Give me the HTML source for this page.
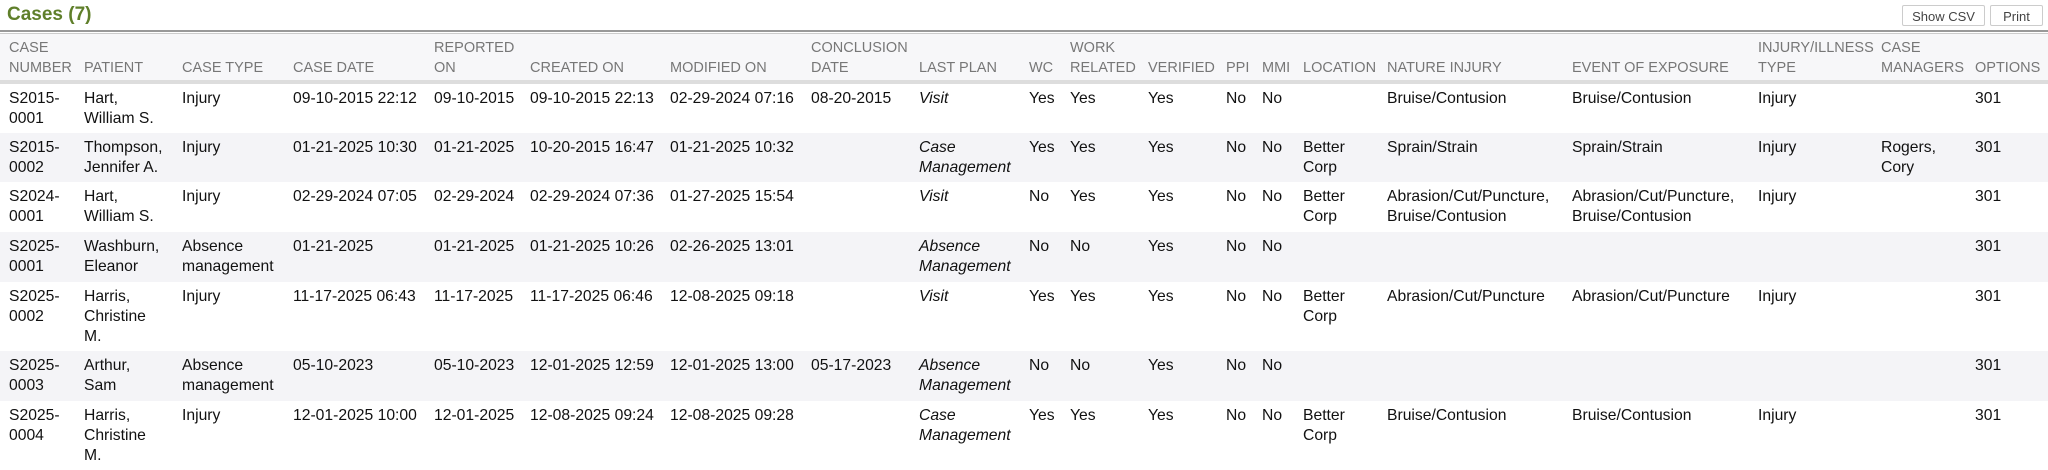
<!DOCTYPE html>
<html><head><meta charset="utf-8"><style>
body{margin:0;width:2048px;height:469px;overflow:hidden;background:#fff;font-family:"Liberation Sans",Arial,sans-serif;color:#111;position:relative}
.title{position:absolute;left:7px;top:4px;font-size:19px;font-weight:bold;color:#5f7f2a}
.btn{position:absolute;top:5px;height:21px;border:1px solid #ccc;border-radius:2px;background:#fff;font-size:13px;color:#444;line-height:21px;text-align:center;box-sizing:border-box}
.topline{position:absolute;left:0;top:30px;width:2048px;height:4px;border-top:2px solid #999;border-bottom:1px solid #ccc;box-sizing:border-box}
table{position:absolute;left:0;top:34px;border-collapse:collapse;table-layout:fixed;width:2048px}
td,th{padding:0;vertical-align:top;font-size:15.7px;line-height:20px;text-align:left;overflow:visible;white-space:nowrap}
th{font-weight:normal;color:#777;font-size:14.5px;vertical-align:bottom;background:#f7f7f9;height:44px;padding-bottom:2px}
thead tr{border-bottom:4px solid #ddd}
tbody td{padding-top:5px}
tr.g td{background:#f4f4f7}
th:first-child,td:first-child{padding-left:9px}
i{font-style:italic}
</style></head><body>
<div class="title">Cases (7)</div>
<div class="btn" style="left:1902px;width:83px">Show CSV</div>
<div class="btn" style="left:1990px;width:53px">Print</div>
<div class="topline"></div>
<table>
<colgroup>
<col style="width:84px"><col style="width:98px"><col style="width:111px"><col style="width:141px"><col style="width:96px"><col style="width:140px"><col style="width:141px"><col style="width:108px"><col style="width:110px"><col style="width:41px"><col style="width:78px"><col style="width:78px"><col style="width:36px"><col style="width:41px"><col style="width:84px"><col style="width:185px"><col style="width:186px"><col style="width:123px"><col style="width:94px"><col style="width:73px">
</colgroup>
<thead><tr>
<th>CASE<br>NUMBER</th><th>PATIENT</th><th>CASE TYPE</th><th>CASE DATE</th><th>REPORTED<br>ON</th><th>CREATED ON</th><th>MODIFIED ON</th><th>CONCLUSION<br>DATE</th><th>LAST PLAN</th><th>WC</th><th>WORK<br>RELATED</th><th>VERIFIED</th><th>PPI</th><th>MMI</th><th>LOCATION</th><th>NATURE INJURY</th><th>EVENT OF EXPOSURE</th><th>INJURY/ILLNESS<br>TYPE</th><th>CASE<br>MANAGERS</th><th>OPTIONS</th>
</tr></thead>
<tbody>
<tr style="height:51px"><td>S2015-<br>0001</td><td>Hart,<br>William S.</td><td>Injury</td><td>09-10-2015 22:12</td><td>09-10-2015</td><td>09-10-2015 22:13</td><td>02-29-2024 07:16</td><td>08-20-2015</td><td><i>Visit</i></td><td>Yes</td><td>Yes</td><td>Yes</td><td>No</td><td>No</td><td></td><td>Bruise/Contusion</td><td>Bruise/Contusion</td><td>Injury</td><td></td><td>301</td></tr>
<tr class="g" style="height:49px"><td>S2015-<br>0002</td><td>Thompson,<br>Jennifer A.</td><td>Injury</td><td>01-21-2025 10:30</td><td>01-21-2025</td><td>10-20-2015 16:47</td><td>01-21-2025 10:32</td><td></td><td><i>Case<br>Management</i></td><td>Yes</td><td>Yes</td><td>Yes</td><td>No</td><td>No</td><td>Better<br>Corp</td><td>Sprain/Strain</td><td>Sprain/Strain</td><td>Injury</td><td>Rogers,<br>Cory</td><td>301</td></tr>
<tr style="height:50px"><td>S2024-<br>0001</td><td>Hart,<br>William S.</td><td>Injury</td><td>02-29-2024 07:05</td><td>02-29-2024</td><td>02-29-2024 07:36</td><td>01-27-2025 15:54</td><td></td><td><i>Visit</i></td><td>No</td><td>Yes</td><td>Yes</td><td>No</td><td>No</td><td>Better<br>Corp</td><td>Abrasion/Cut/Puncture,<br>Bruise/Contusion</td><td>Abrasion/Cut/Puncture,<br>Bruise/Contusion</td><td>Injury</td><td></td><td>301</td></tr>
<tr class="g" style="height:50px"><td>S2025-<br>0001</td><td>Washburn,<br>Eleanor</td><td>Absence<br>management</td><td>01-21-2025</td><td>01-21-2025</td><td>01-21-2025 10:26</td><td>02-26-2025 13:01</td><td></td><td><i>Absence<br>Management</i></td><td>No</td><td>No</td><td>Yes</td><td>No</td><td>No</td><td></td><td></td><td></td><td></td><td></td><td>301</td></tr>
<tr style="height:69px"><td>S2025-<br>0002</td><td>Harris,<br>Christine<br>M.</td><td>Injury</td><td>11-17-2025 06:43</td><td>11-17-2025</td><td>11-17-2025 06:46</td><td>12-08-2025 09:18</td><td></td><td><i>Visit</i></td><td>Yes</td><td>Yes</td><td>Yes</td><td>No</td><td>No</td><td>Better<br>Corp</td><td>Abrasion/Cut/Puncture</td><td>Abrasion/Cut/Puncture</td><td>Injury</td><td></td><td>301</td></tr>
<tr class="g" style="height:50px"><td>S2025-<br>0003</td><td>Arthur,<br>Sam</td><td>Absence<br>management</td><td>05-10-2023</td><td>05-10-2023</td><td>12-01-2025 12:59</td><td>12-01-2025 13:00</td><td>05-17-2023</td><td><i>Absence<br>Management</i></td><td>No</td><td>No</td><td>Yes</td><td>No</td><td>No</td><td></td><td></td><td></td><td></td><td></td><td>301</td></tr>
<tr style="height:69px"><td>S2025-<br>0004</td><td>Harris,<br>Christine<br>M.</td><td>Injury</td><td>12-01-2025 10:00</td><td>12-01-2025</td><td>12-08-2025 09:24</td><td>12-08-2025 09:28</td><td></td><td><i>Case<br>Management</i></td><td>Yes</td><td>Yes</td><td>Yes</td><td>No</td><td>No</td><td>Better<br>Corp</td><td>Bruise/Contusion</td><td>Bruise/Contusion</td><td>Injury</td><td></td><td>301</td></tr>
</tbody></table>
</body></html>
